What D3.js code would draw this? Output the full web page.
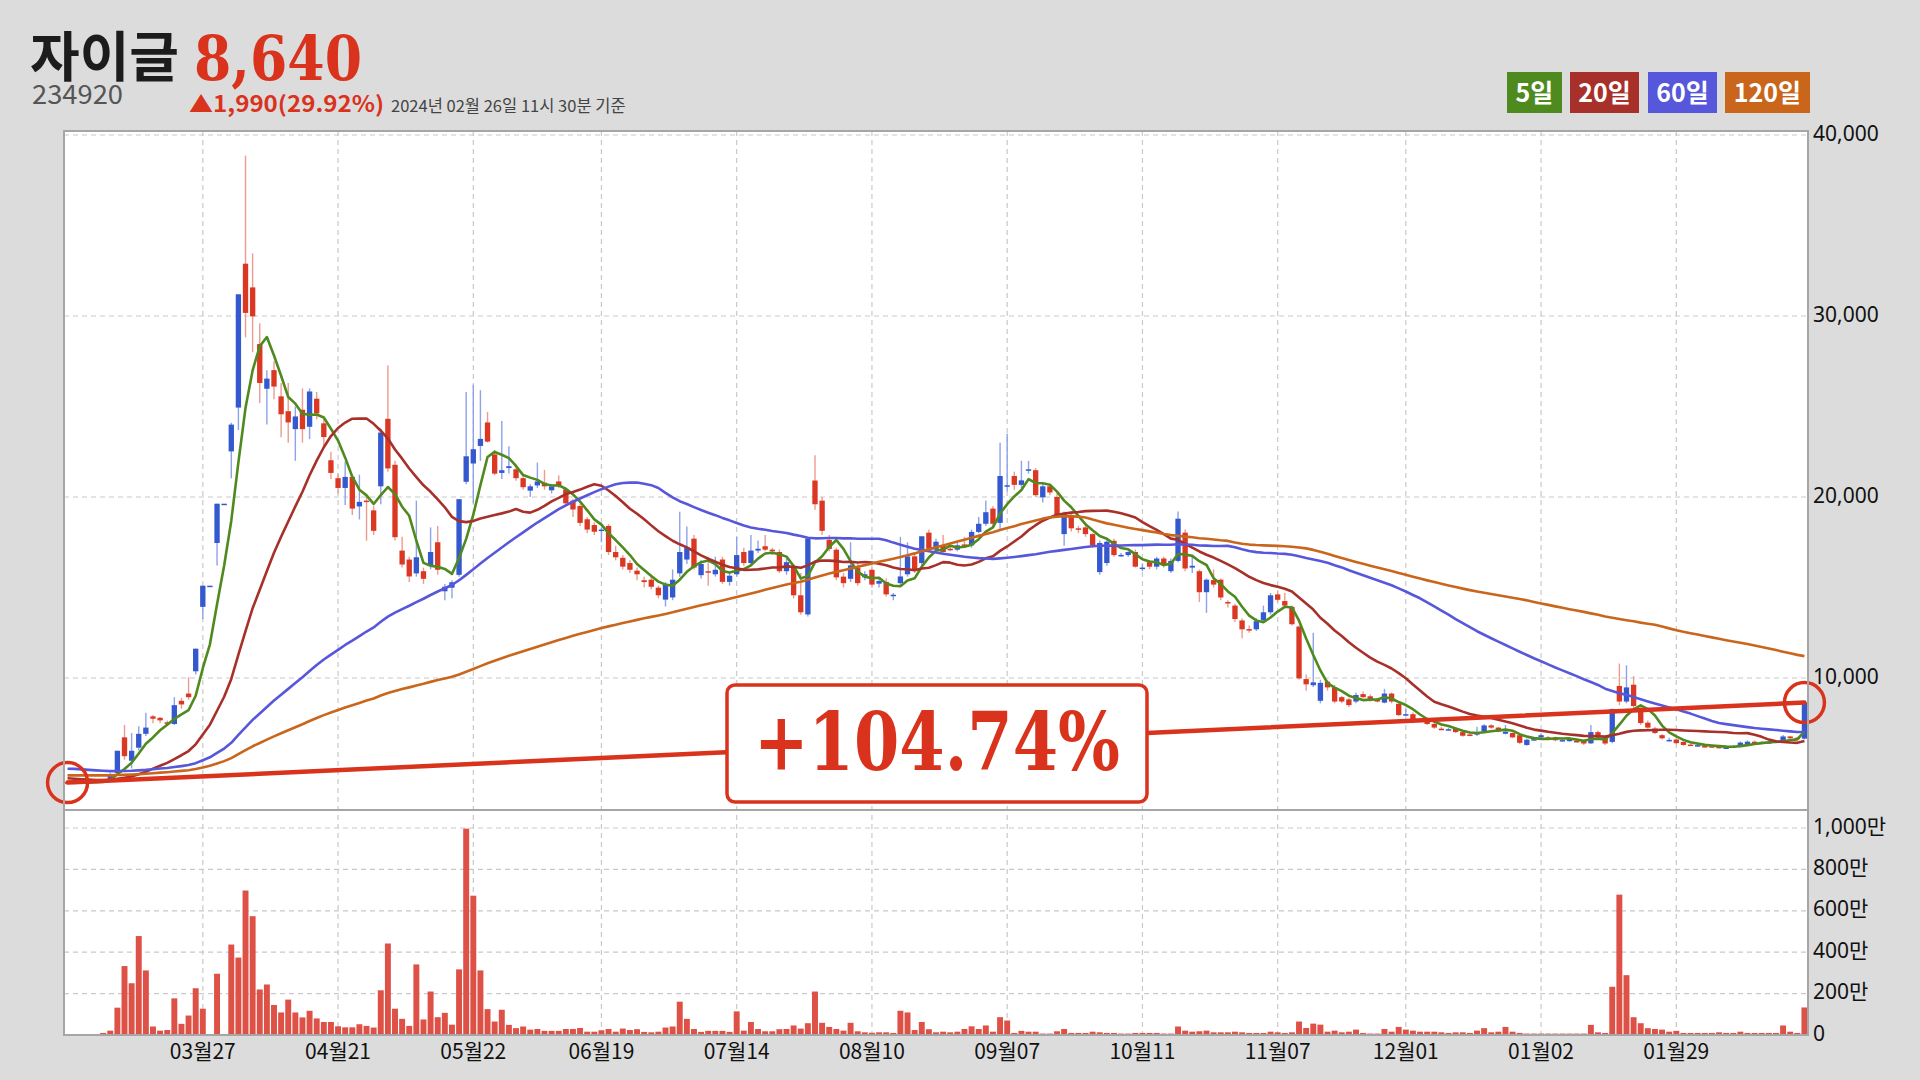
<!DOCTYPE html>
<html><head><meta charset="utf-8">
<script src="https://cdn.jsdelivr.net/npm/d3@7"></script>
<style>body{margin:0;background:#dcdcdc;}svg{display:block}</style>
</head><body>
<svg id="c" width="1920" height="1080"></svg>
<script>
// ---------- DATA ----------
const stockName = "자이글";
const stockCode = "234920";
const lastPrice = "8,640";
const changeText = "▲1,990(29.92%)";
const asOfText = "2024년 02월 26일 11시 30분 기준";
const gainText = "+104.74%";

// closes before the visible window (estimated, only used to seed moving averages)
const priorCloses = [
4300,4280,4250,4270,4230,4200,4220,4260,4240,4210,
4190,4200,4230,4250,4280,4260,4240,4220,4200,4180,
4170,4200,4230,4260,4290,4310,4300,4280,4260,4240,
4250,4270,4290,4300,4320,4310,4290,4270,4250,4230,
4220,4200,4210,4230,4250,4240,4220,4200,4190,4210,
4230,4250,4270,4260,4240,4230,4250,4280,4320,
4500,4900,5600,6100,5900,5700,5800,5600,5500,5400,
5600,5500,5400,5500,5600,5500,5400,5300,5500,5400,
5300,5200,5150,5100,5050,5100,5000,4950,5000,5050,
4980,4950,4900,4950,5000,4950,4900,4850,4900,4850,
4800,4750,4700,4650,4680,4600,4550,4580,4520,4500,
4450,4420,4400,4380,4350,4330,4300,4280,4260,4240];

const opens = [
4250,4220,4200,4230,4250,4280,4330,4750,6720,5430,
6150,6915,7880,7800,7550,7460,8740,9140,10370,13930,
15100,17460,19630,22520,24940,32890,31580,28450,25980,27010,
25560,24740,23750,24820,23880,25430,24070,22030,21040,20500,
21110,19480,19800,19260,20590,24320,21780,17040,16545,15780,
15900,16220,17500,14790,14990,15700,20840,21850,22820,24120,
22350,21330,21600,21530,21040,20350,20640,20790,20370,20860,
20420,19800,19500,18770,18450,18150,18400,16960,16640,16350,
15930,15400,15430,14990,14330,14450,15780,16545,17700,15680,
15900,15730,16545,15310,15730,16960,16350,17040,17280,17090,
16960,15900,16150,14570,13510,20910,19800,17630,17090,15600,
15480,16100,15560,15980,15210,15310,14570,15240,15730,16720,
16350,18030,17090,17330,17140,17090,17380,17330,18070,18520,
19360,18570,20600,21160,20670,21480,21480,19980,20590,20000,
17950,19010,18270,18320,17950,15850,16350,17580,16790,16790,
16960,16100,16400,16150,16600,15900,16470,18030,16100,15900,
14740,15410,15430,14200,14000,13180,12700,12690,13180,13630,
14620,14250,13930,12840,9940,9600,8740,9800,9480,8940,
8820,8700,9110,8990,8780,8640,9140,8570,7980,8000,
7720,7700,7460,7200,7150,7210,7010,6880,6870,7040,
7380,7260,6920,6960,6840,6300,6590,6720,6720,6680,
6560,6510,6520,6560,6390,7010,6720,6470,9560,8700,
9630,8320,7530,7210,6840,6560,6600,6470,6320,6260,
6240,6230,6200,6130,6180,6280,6330,6480,6470,6420,
6450,6520,6770,6700,6650];

const highs = [
4300,4260,4260,4280,4310,4380,4750,5980,7410,6960,
7330,8075,7950,7850,7650,8940,8900,10050,11620,15100,
15100,19630,19630,24100,31200,38860,33460,29600,27000,27500,
26300,26300,25000,26000,26000,25800,24300,22500,21300,21960,
21200,21230,20000,19500,23800,27260,22000,17800,16700,19800,
16100,18320,18400,15200,15400,19880,25800,26200,25900,24700,
22600,24200,22800,21800,21200,20700,21900,21500,20700,21200,
20500,19900,19600,18900,18600,18300,18500,17300,16800,16500,
16100,15600,15600,15100,15300,16000,19190,18370,17900,16500,
16700,16700,16700,15800,17800,17200,17900,17600,17900,17200,
17100,16600,16300,15800,17710,22300,20000,17900,17200,15800,
17500,16300,15900,16100,15500,15500,14700,17800,17500,16900,
17830,18200,17700,17900,17300,17500,17800,18200,18900,19800,
19500,23000,23500,21400,22000,22000,21600,20700,20700,20200,
19200,19200,18400,18500,18000,17600,17700,17700,16900,17000,
17100,16300,16500,16700,16700,16600,19200,18200,16700,16000,
15500,16000,15500,14300,14100,13300,12900,13300,14000,14700,
14800,14700,14000,12900,10200,12500,9900,9900,9600,9000,
8900,9200,9250,9100,8850,9400,9200,8650,8300,8100,
7800,7750,7550,7300,7250,7300,7100,6950,7300,7450,
7450,7300,7400,7000,6900,6650,6700,6950,6800,6750,
6650,6700,6600,6600,7400,7100,6800,8300,10800,10700,
10100,8400,7650,7300,6900,6700,6650,6500,6400,6350,
6300,6300,6250,6250,6300,6500,6550,6550,6500,6500,
6550,6850,6800,6750,8640];

const lows = [
4200,4180,4170,4200,4220,4250,4300,4700,5480,5000,
6000,6800,7500,7500,7400,7400,8300,8800,10200,13260,
15100,16220,19630,21040,23700,28820,28000,25200,24000,25400,
23300,23000,22000,23000,23200,24300,22800,21000,20200,19560,
19010,18760,17580,17900,19600,21400,17600,16100,15300,15600,
15200,16000,15700,14300,14400,15600,20700,19650,22000,23000,
21200,21000,21300,20900,20400,20000,20500,20400,20200,20500,
19500,18900,18400,18000,17900,17500,16800,16500,16000,15800,
15400,15000,14900,14400,13950,14300,15600,16300,16000,15500,
15100,15600,15200,15100,15600,16200,16200,16900,17000,16800,
15800,15700,14400,13500,13400,19300,17900,17000,15400,15000,
15300,15100,15400,15000,15000,14500,14300,15100,15600,15800,
16000,17000,16950,16900,17000,17000,17200,17200,18000,18400,
18300,18200,20300,20400,20500,21300,20000,19700,20100,18900,
17300,18100,18000,17800,17200,15700,16200,16700,16700,16700,
16100,15900,16000,16000,16100,15800,16400,15900,15800,14200,
13600,15000,14300,13900,13100,12200,12500,12600,13100,13500,
14200,13900,12900,9900,9300,9500,8600,9300,8600,8600,
8400,8600,8900,8700,8650,8600,8600,7900,7900,7500,
7600,7400,7200,7100,7100,6950,6750,6780,6800,7000,
7200,7000,6880,6680,6350,6250,6550,6680,6650,6500,
6500,6480,6450,6300,6350,6650,6300,6400,8500,8600,
8300,7400,7200,6900,6600,6500,6350,6250,6250,6200,
6180,6180,6100,6100,6150,6250,6300,6400,6380,6380,
6420,6500,6620,6600,6600];

const closes = [
4220,4200,4230,4250,4280,4330,4600,5980,5680,5980,
6915,7260,7750,7660,7500,8500,8540,8940,11620,15100,
15100,19630,19630,24000,31200,30170,29980,26300,26540,26100,
24570,24120,24450,23750,25830,24620,23310,21330,20500,21110,
19360,19730,19750,18130,23560,21580,17780,16270,15610,16670,
15480,16960,15980,15040,15290,19880,22250,22640,23210,23060,
21290,21480,21700,21040,20540,20590,20860,20590,20590,20590,
19650,19310,18570,18200,18080,18200,16960,16670,16150,15980,
15730,15300,15040,14570,15160,15430,16960,17210,16100,16300,
15880,15980,15310,15650,16790,16350,17040,17140,17090,17000,
15900,16400,14570,13630,17710,19600,18130,17130,15560,15240,
16220,15240,15730,15160,15360,14620,14600,15610,16720,15980,
17830,17140,17530,16960,17100,17330,17330,18070,18520,19160,
18520,21160,20650,20670,20920,21530,20100,20590,20250,19010,
19060,18270,18200,17950,17330,17460,17530,16790,16800,16960,
16150,16100,16150,16600,16220,16470,18800,16050,16200,14740,
15430,15160,14450,14130,13260,12690,12690,13140,13630,14570,
14320,14000,12970,9980,9650,9760,9730,9480,8700,8700,
8500,9060,8940,8820,8740,9140,8700,7950,8000,7580,
7680,7460,7260,7160,7170,7010,6810,6810,7010,7380,
7260,7040,7040,6720,6420,6590,6620,6840,6700,6560,
6570,6640,6500,6380,7010,6720,6380,8290,8700,9480,
8450,7510,7260,6960,6670,6580,6400,6300,6300,6290,
6230,6220,6150,6160,6230,6430,6480,6450,6420,6450,
6500,6770,6670,6650,8640];

// volume in 만주 (10,000 shares)
const volumes = [
3,2,3,2,4,10,21,132,333,250,
478,312,41,21,24,177,54,94,226,127,
0,296,0,437,374,698,574,220,244,145,
109,171,109,85,117,80,63,63,42,37,
37,52,44,36,216,442,127,78,44,341,
75,210,86,107,50,317,997,673,312,125,
65,122,49,33,41,26,29,20,20,20,
29,29,34,16,16,23,29,16,31,24,
28,15,13,16,36,41,161,78,29,15,
20,20,20,15,114,21,63,29,18,18,
28,29,46,31,57,210,59,39,29,21,
59,18,13,11,13,13,10,117,109,24,
63,28,13,16,13,16,29,42,29,46,
16,86,70,10,20,16,16,7,7,18,
29,10,10,10,16,13,10,10,7,7,
10,10,10,10,7,7,41,21,16,18,
21,13,13,13,16,13,10,10,10,16,
13,10,13,65,34,55,50,16,21,13,
16,26,10,7,7,29,16,39,26,21,
16,16,16,13,10,13,13,10,21,33,
13,16,39,16,10,7,7,7,7,7,
7,7,7,7,49,13,10,233,678,289,
86,57,33,29,26,16,20,10,10,10,
10,10,13,10,10,16,10,10,10,10,
10,46,16,10,133];

const marketHolidays = ["2023-03-01","2023-05-01","2023-05-05","2023-05-29","2023-06-06",
"2023-08-15","2023-09-28","2023-09-29","2023-10-02","2023-10-03","2023-10-09",
"2023-12-25","2023-12-29","2024-01-01","2024-02-09","2024-02-12"];
const firstDate = "2023-02-27";

const tickDates = ["2023-03-27","2023-04-21","2023-05-22","2023-06-19","2023-07-14","2023-08-10",
"2023-09-07","2023-10-11","2023-11-07","2023-12-01","2024-01-02","2024-01-29"];
const tickLabels = ["03월27","04월21","05월22","06월19","07월14","08월10",
"09월07","10월11","11월07","12월01","01월02","01월29"];

const priceTicks = [10000,20000,30000,40000];
const volumeTicks = [0,200,400,600,800,1000];

const maPeriods = [5,20,60,120];
const maLabels = ["5일","20일","60일","120일"];
const maColors = ["#4f8a1e","#a8302a","#5757db","#c9661c"];

// ---------- LAYOUT ----------
const W=1920,H=1080;
const L=64,R=1808,T=131,PB=810,VB=1035;

// trading-day calendar
const fmt = d3.utcFormat("%Y-%m-%d");
const dates = [];
for (let d = new Date(firstDate+"T00:00:00Z"); dates.length < closes.length; d = d3.utcDay.offset(d,1)) {
  const wd = d.getUTCDay(), s = fmt(d);
  if (wd!==0 && wd!==6 && !marketHolidays.includes(s)) dates.push(s);
}
const N = closes.length;

const x = d3.scaleBand().domain(dates).range([L,R]).paddingInner(0.25).paddingOuter(0.125);
const bw = x.bandwidth();
const cx = i => x(dates[i]) + bw/2;
const y = d3.scaleLinear().domain([2707,40221]).range([PB,T]);
const yv = d3.scaleLinear().domain([0,1087]).range([VB,PB]);

const svg = d3.select("#c");
svg.append("rect").attr("width",W).attr("height",H).attr("fill","#dcdcdc");
svg.append("rect").attr("x",L).attr("y",T).attr("width",R-L).attr("height",VB-T).attr("fill","#ffffff");

const defs = svg.append("defs");
defs.append("clipPath").attr("id","pclip").append("rect").attr("x",L).attr("y",T).attr("width",R-L).attr("height",PB-T);

// grid
const grid = svg.append("g").attr("stroke","#c9c9c9").attr("stroke-width",1.2).attr("stroke-dasharray","5,4");
priceTicks.forEach(p=>grid.append("line").attr("x1",L).attr("x2",R).attr("y1",y(p)).attr("y2",y(p)));
volumeTicks.filter(v=>v>0).forEach(v=>grid.append("line").attr("x1",L).attr("x2",R).attr("y1",yv(v)).attr("y2",yv(v)));
tickDates.forEach(d=>{const xx=x(d)+bw/2; grid.append("line").attr("x1",xx).attr("x2",xx).attr("y1",T).attr("y2",VB);});

// volume bars
svg.append("g").selectAll("rect").data(volumes).join("rect")
  .attr("x",(v,i)=>x(dates[i])-0.3).attr("width",bw+0.6)
  .attr("y",v=>yv(v)).attr("height",v=>VB-yv(v))
  .attr("fill","#dd5146");

// candles
const cg = svg.append("g").attr("clip-path","url(#pclip)");
const up = i => closes[i] >= opens[i];
cg.selectAll("line.w").data(d3.range(N)).join("line").attr("class","w")
  .attr("x1",cx).attr("x2",cx).attr("y1",i=>y(highs[i])).attr("y2",i=>y(lows[i]))
  .attr("stroke",i=>up(i)?"#8ea2ea":"#ec9b90").attr("stroke-width",1.4);
cg.selectAll("rect.b").data(d3.range(N)).join("rect").attr("class","b")
  .attr("x",i=>x(dates[i])).attr("width",bw)
  .attr("y",i=>y(Math.max(opens[i],closes[i])))
  .attr("height",i=>Math.max(1.5, y(Math.min(opens[i],closes[i]))-y(Math.max(opens[i],closes[i]))))
  .attr("fill",i=>up(i)?"#3459cf":"#da3822");

// moving averages
const allC = priorCloses.concat(closes);
const P = priorCloses.length;
maPeriods.forEach((n,k)=>{
  const vals = closes.map((c,i)=>d3.mean(allC.slice(P+i-n+1,P+i+1)));
  const line = d3.line().x((v,i)=>cx(i)).y(v=>y(v));
  cg.append("path").attr("d",line(vals)).attr("fill","none")
    .attr("stroke",maColors[k]).attr("stroke-width",2.6).attr("stroke-linejoin","round");
});

// trend line & circles
const x0=cx(0), y0=y(closes[0]), x1=cx(N-1), y1=y(closes[N-1]);
svg.append("line").attr("x1",x0).attr("y1",y0).attr("x2",x1).attr("y2",y1)
  .attr("stroke","#d9331d").attr("stroke-width",4.5).attr("stroke-linecap","round");
[[x0,y0],[x1,y1]].forEach(([a,b])=>svg.append("circle").attr("cx",a).attr("cy",b).attr("r",20)
  .attr("fill","none").attr("stroke","#d9331d").attr("stroke-width",3.5));

// frame
svg.append("rect").attr("x",L).attr("y",T).attr("width",R-L).attr("height",VB-T)
  .attr("fill","none").attr("stroke","#a6a6a6").attr("stroke-width",2);
svg.append("line").attr("x1",L).attr("x2",R).attr("y1",PB).attr("y2",PB).attr("stroke","#a6a6a6").attr("stroke-width",2);

// annotation box
svg.append("rect").attr("x",727).attr("y",685).attr("width",420).attr("height",117).attr("rx",8)
  .attr("fill","#ffffff").attr("stroke","#d9331d").attr("stroke-width",3.5);
svg.append("text").attr("x",937).attr("y",770).attr("text-anchor","middle")
  .attr("font-family","'DejaVu Serif', serif").attr("font-weight","bold").attr("font-size",80)
  .attr("textLength",366).attr("lengthAdjust","spacingAndGlyphs")
  .attr("fill","#d9331d").text(gainText);

// axes labels
const lab = svg.append("g").attr("font-family","'Noto Sans','Noto Sans CJK KR',sans-serif").attr("font-size",21).attr("fill","#111");
priceTicks.forEach(p=>lab.append("text").attr("x",R+5).attr("y",y(p)).attr("dominant-baseline","middle").text(d3.format(",")(p)));
volumeTicks.forEach(v=>lab.append("text").attr("x",R+5).attr("y",yv(v)).attr("dominant-baseline","middle")
  .text(v===0?"0":d3.format(",")(v)+"만"));
const xl = svg.append("g").attr("font-family","'Noto Sans CJK KR',sans-serif").attr("font-size",21).attr("fill","#111").attr("text-anchor","middle");
tickDates.forEach((d,k)=>xl.append("text").attr("x",x(d)+bw/2).attr("y",1059).text(tickLabels[k]));

// header
svg.append("text").attr("x",30).attr("y",77).attr("font-family","'Noto Sans CJK KR',sans-serif")
  .attr("font-weight","bold").attr("font-size",54).attr("fill","#1c1c1c").text(stockName);
svg.append("text").attr("x",194).attr("y",80).attr("font-family","'DejaVu Serif',serif")
  .attr("font-weight","bold").attr("font-size",62).attr("textLength",168).attr("lengthAdjust","spacingAndGlyphs")
  .attr("fill","#d9331d").text(lastPrice);
svg.append("text").attr("x",32).attr("y",104).attr("font-family","'Noto Sans CJK KR',sans-serif")
  .attr("font-size",26).attr("fill","#555").attr("textLength",91).attr("lengthAdjust","spacingAndGlyphs").text(stockCode);
svg.append("text").attr("x",189).attr("y",112).attr("font-family","'Noto Sans CJK KR',sans-serif")
  .attr("font-weight","bold").attr("font-size",22).attr("textLength",195).attr("lengthAdjust","spacingAndGlyphs")
  .attr("fill","#d9331d").text(changeText);
svg.append("text").attr("x",391).attr("y",112).attr("font-family","'Noto Sans CJK KR',sans-serif")
  .attr("font-size",16.5).attr("fill","#444").text(asOfText);

// legend
const legX = [1507,1570,1648,1725], legW=[55,69,69,85];
maLabels.forEach((t,k)=>{
  svg.append("rect").attr("x",legX[k]).attr("y",72).attr("width",legW[k]).attr("height",41).attr("fill",maColors[k]);
  svg.append("text").attr("x",legX[k]+legW[k]/2).attr("y",102).attr("text-anchor","middle")
    .attr("font-family","'Noto Sans CJK KR',sans-serif").attr("font-weight","bold").attr("font-size",25)
    .attr("fill","#fff").text(t);
});
</script>
</body></html>
